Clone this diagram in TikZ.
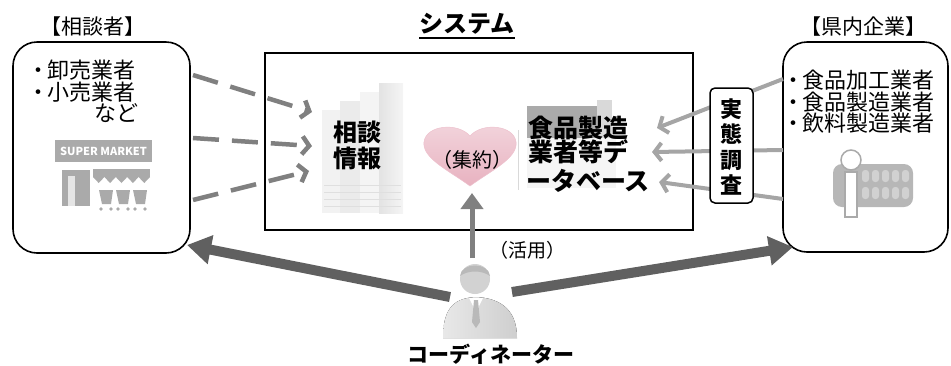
\documentclass[tikz,border=0pt]{standalone}
\usepackage{fontspec}
\setmainfont{Noto Sans CJK JP}
\usetikzlibrary{arrows.meta}

\definecolor{arrowgrey}{RGB}{128,128,128}
\definecolor{surveygrey}{RGB}{165,165,165}
\definecolor{bigarrow}{RGB}{96,96,96}
\definecolor{iconbase}{RGB}{170,170,170}
\definecolor{heartpink}{RGB}{232,178,192}

\newcommand{\bul}{・\kern-2pt}

\tikzset{
  txt/.style={inner sep=0pt, font=\fontsize{22}{22}\selectfont},
  ttl/.style={inner sep=0pt, font=\fontsize{21}{21}\selectfont},
  heavy/.style={inner sep=0pt, font=\fontsize{#1}{#1}\selectfont\bfseries},
  heavy/.default=24,
  group/.style={draw, line width=1.6pt, rounded corners=24pt, inner sep=0pt},
  feed/.style={draw=arrowgrey, line width=4.5pt,
    dash pattern=on 26pt off 13pt,
    -{Straight Barb[length=7pt,width=18pt]}},
  survey/.style={draw=surveygrey, line width=4pt,
    -{Straight Barb[length=7pt,width=18pt]}},
  reach/.style={draw=bigarrow, line width=10pt,
    -{Triangle[width=28pt,length=24pt]}},
}

\begin{document}
\begin{tikzpicture}[x=1pt,y=-1pt]
\useasboundingbox (0,0) rectangle (951,365);

% ---------- containers ----------
\node[group, minimum width=177pt, minimum height=211pt] (cons) at (101.5,147.5) {};
\node[group, minimum width=165pt, minimum height=210pt] (firms) at (865.5,147) {};
\node[draw, line width=2.5pt, inner sep=0pt, minimum width=428pt, minimum height=177pt] (sys) at (479,141.5) {};

% ---------- titles ----------
\node[ttl] (tcons) at (93,27) {【相談者】};
\node[ttl] (tfirms) at (863,27) {【県内企業】};
\node[heavy=24] (tsys) at (467,24) {システム};
\draw[line width=1.5pt] ([yshift=-3pt]tsys.south west) -- ([yshift=-3pt]tsys.south east);

% ---------- consultants ----------
\node[txt, anchor=west] (c1) at (27,70) {\bul 卸売業者};
\node[txt, anchor=west] (c2) at (27,92) {\bul 小売業者};
\node[txt] (c3) at (116,113) {など};

% supermarket pictogram
\begin{scope}[fill=iconbase]
  \fill (55,140) rectangle (152,162);
  \node[inner sep=0pt, text=white, font=\fontsize{11}{11}\selectfont\bfseries] (smk) at (103.5,151) {SUPER MARKET};
  \fill (62,170) rectangle (90,206);
  \fill[white!70!iconbase] (68,176) rectangle (75,206);
  \fill (93,169) rectangle (150,177);
  \foreach \i in {0,...,4} {
    \fill (93+\i*11.4,177) -- (104.4+\i*11.4,177) -- (98.7+\i*11.4,183) -- cycle;
  }
  \foreach \i in {0,1,2} {
    \fill (99+\i*17,190) -- (113+\i*17,190) -- (111+\i*17,204) -- (102+\i*17,204) -- cycle;
    \fill (101+\i*17,209) circle (1.8);
    \fill (111+\i*17,209) circle (1.8);
  }
\end{scope}

% ---------- firms ----------
\node[txt, anchor=west] (f1) at (782,80) {\bul 食品加工業者};
\node[txt, anchor=west] (f2) at (782,102) {\bul 食品製造業者};
\node[txt, anchor=west] (f3) at (782,123) {\bul 飲料製造業者};

% factory worker pictogram
\fill[rounded corners=9pt, fill=iconbase!85] (833,164) rectangle (913,207);
\foreach \r in {0,1} \foreach \c in {0,...,4} {
  \fill[rounded corners=3pt, fill=iconbase!60!black!30!white] (862+\c*10,170+\r*17) rectangle (869+\c*10,182+\r*17);
}
\fill[fill=white, draw=iconbase, line width=1.5pt] (845,172) rectangle (857,217);
\fill[fill=white, draw=iconbase, line width=1.5pt] (851,160) circle (10);

% ---------- system contents ----------
% data server pictogram
\fill[gray!10] (322,110) rectangle (342,213);
\fill[gray!16] (340,101) rectangle (362,213);
\fill[gray!9]  (360,92) rectangle (381,213);
\fill[left color=gray!22, right color=gray!8] (379,83) rectangle (403,213);
\foreach \y in {185,192,199,206} \draw[gray!25, line width=0.6pt] (324,\y) -- (401,\y);
\node[heavy=24] (info1) at (357,132) {相談};
\node[heavy=24] (info2) at (357,158) {情報};

% heart
\path[top color=heartpink!55, bottom color=heartpink, draw=heartpink!80, line width=0.5pt]
  (470,186) .. controls (448,170) and (422,158) .. (424,142)
  .. controls (426,125) and (458,122) .. (470,136)
  .. controls (482,122) and (514,125) .. (516,142)
  .. controls (518,158) and (492,170) .. (470,186) -- cycle;
\coordinate (heartbase) at (472,193);
\node[inner sep=0pt, font=\fontsize{20}{20}\selectfont] (sum) at (472,160) {（集約）};

% database pictogram
\draw[gray!30, line width=1pt] (518,130) -- (518,190);
\fill[gray!8] (527,138) rectangle (616,188);
\fill[iconbase] (527,106) rectangle (607,138);
\fill[gray!30] (597,100) rectangle (612,138);
\node[heavy=25, anchor=west] (db1) at (528,128) {食品製造};
\node[heavy=25, anchor=west] (db2) at (528,152) {業者等デ};
\node[heavy=25, anchor=west] (db3) at (526,181) {ータベース};

% ---------- consultation flows ----------
\coordinate (a1) at (193,75);  \coordinate (b1) at (312,112);
\coordinate (a2) at (193,138); \coordinate (b2) at (312,146);
\coordinate (a3) at (193,200); \coordinate (b3) at (309,171);
\draw[feed] (a1) -- (b1);
\draw[feed] (a2) -- (b2);
\draw[feed] (a3) -- (b3);

% ---------- survey flows ----------
\coordinate (s1) at (783,79);  \coordinate (d1) at (657,128);
\coordinate (s2) at (783,150); \coordinate (d2) at (652,152);
\coordinate (s3) at (783,199); \coordinate (d3) at (659,182);
\draw[survey] (s1) -- (d1);
\draw[survey] (s2) -- (d2);
\draw[survey] (s3) -- (d3);
\node[draw, fill=white, line width=1.5pt, rounded corners=5pt, inner sep=0pt,
      minimum width=43pt, minimum height=115pt] (survey) at (731.5,145.5) {};
\node[inner sep=0pt, align=center, font=\fontsize{22}{25.3}\selectfont\bfseries] (surveytxt) at (731.5,147) {実\\態\\調\\査};

% ---------- coordinator ----------
\fill[left color=gray!18, right color=gray!38] (443,338) .. controls (443,306) and (456,298) .. (476,297)
  .. controls (496,298) and (517,306) .. (517,338) -- cycle;
\fill[white] (469,298) -- (483,298) -- (476,312) -- cycle;
\fill[gray!55] (474,300) -- (478,300) -- (480,322) -- (476,328) -- (472,322) -- cycle;
\fill[gray!35] (475,279) circle (15);
\fill[gray!55] (460,276) .. controls (461,262) and (489,262) .. (490,276) .. controls (482,270) and (468,270) .. (460,276) -- cycle;
\node[inner sep=0pt, minimum size=1pt] (coord) at (475,300) {};

\node[inner sep=0pt, font=\fontsize{19}{19}\selectfont] (use) at (527,250) {（活用）};
\node[heavy=21] (coordtxt) at (491,354) {コーディネーター};

\coordinate (u0) at (472,258);
\draw[draw=arrowgrey, line width=5pt, -{Triangle[width=22pt,length=16pt]}] (u0) -- (heartbase);

\coordinate (lt) at (450,297); \coordinate (lh) at (187,245);
\coordinate (rt) at (512,292); \coordinate (rh) at (793,247);
\draw[reach] (lt) -- (lh);
\draw[reach] (rt) -- (rh);
\end{tikzpicture}
\end{document}
